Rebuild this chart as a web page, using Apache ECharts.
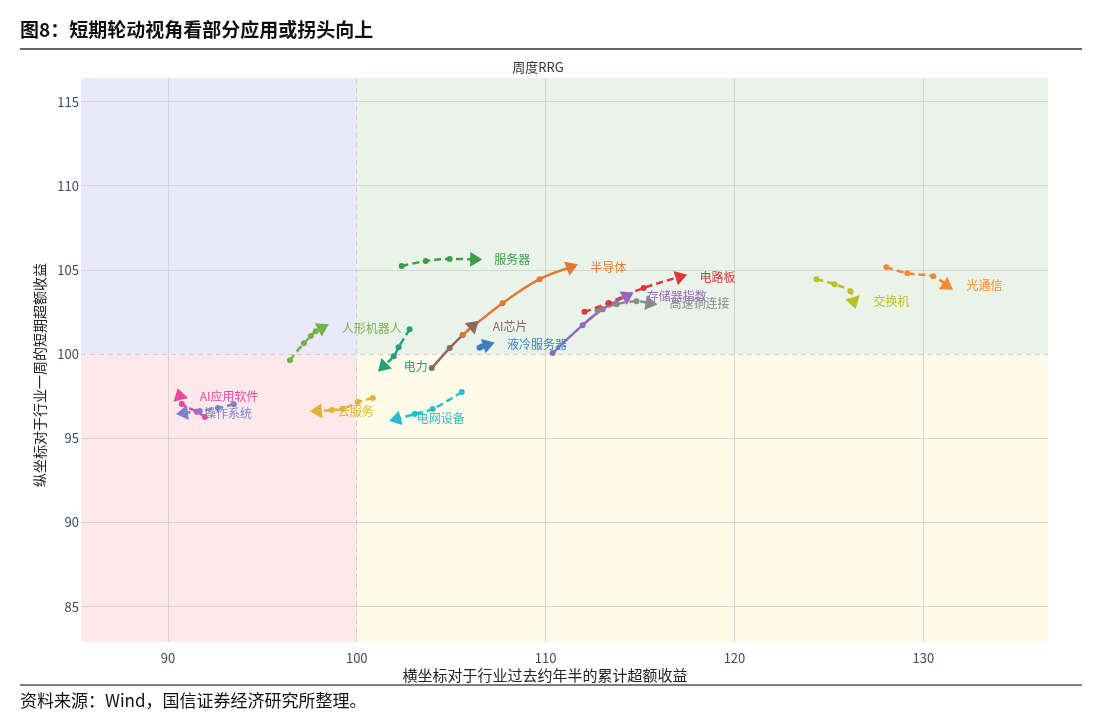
<!DOCTYPE html>
<html>
<head>
<meta charset="utf-8">
<script src="https://cdn.jsdelivr.net/npm/echarts@6/dist/echarts.min.js"></script>
<style>
html,body{margin:0;padding:0;background:#fff;}
#c{width:1104px;height:726px;}
</style>
</head>
<body>
<div id="c"></div>
<script>
// ---- data (x: 累计超额收益, y: 短期超额收益) ----
const s_fwq   = [[102.38,105.23],[103.65,105.53],[104.92,105.65],[106.22,105.63]];          // 服务器
const s_rxjqr = [[96.46,99.64],[97.2,100.65],[97.57,101.07],[97.83,101.36],[98.15,101.55]]; // 人形机器人
const s_dl    = [[102.8,101.48],[102.22,100.41],[101.96,99.88],[101.43,99.29]];              // 电力
const s_aixp  = [[103.97,99.17],[104.92,100.36],[105.61,101.13],[106.14,101.66]];            // AI芯片
const s_bdt   = [[105.61,101.13],[107.72,103.02],[109.68,104.45],[111.32,105.16]];           // 半导体
const s_llfwq = [[106.5,100.38],[106.62,100.45],[106.9,100.55]];                             // 液冷服务器
const s_ccq   = [[110.37,100.06],[111.96,101.72],[113.02,102.67],[114.29,103.44]];           // 存储器指数
const s_gstl  = [[112.75,102.61],[113.76,102.96],[114.81,103.14],[115.5,103.02]];            // 高速铜连接
const s_dlb   = [[112.06,102.51],[113.33,103.04],[115.19,103.93],[117.09,104.58]];           // 电路板
const s_jhj   = [[124.34,104.45],[125.29,104.15],[126.14,103.73],[126.3,103.14]];            // 交换机
const s_gtx   = [[128.04,105.16],[129.15,104.8],[130.53,104.62],[131.22,104.09]];            // 光通信
const s_aiyy  = [[91.96,96.27],[91.53,96.58],[90.74,97.04],[90.63,97.51]];                   // AI应用软件
const s_czxt  = [[93.49,97.02],[92.65,96.8],[91.69,96.62],[90.85,96.5]];                     // 操作系统
const s_yfw   = [[100.85,97.39],[100.05,97.15],[99.26,96.74],[98.68,96.68],[97.94,96.62]];   // 云服务
const s_dwsb  = [[105.56,97.75],[104.02,96.74],[103.07,96.44],[102.12,96.15]];               // 电网设备

const names = ['服务器','人形机器人','电力','AI芯片','半导体','液冷服务器','存储器指数','高速铜连接','电路板','交换机','光通信','AI应用软件','操作系统','云服务','电网设备'];
const seriesData = [s_fwq,s_rxjqr,s_dl,s_aixp,s_bdt,s_llfwq,s_ccq,s_gstl,s_dlb,s_jhj,s_gtx,s_aiyy,s_czxt,s_yfw,s_dwsb];
const colors = ['#3c9f45','#78b04c','#25a07c','#8d6a60','#e07a30','#3a80bf','#9467bd','#8a8a8a','#d93a3c','#bcbd2a','#f28a34','#e8489c','#7f80c8','#e3b234','#25bdd0'];
const solid = [false,false,false,true,true,false,true,false,false,false,false,false,false,false,false];

const xTicks = [90,100,110,120,130];
const yTicks = [85,90,95,100,105,110,115];
const xRange = [85.4,136.6];
const yRange = [82.9,116.4];
const midX = 100, midY = 100;

const FONT = '"Noto Sans CJK SC","Noto Sans",sans-serif';

const chart = echarts.init(document.getElementById('c'));

const series = [];
// quadrant backgrounds
series.push({
  type:'line', data:[], z:1, silent:true,
  markArea:{ silent:true, data:[
    [{coord:[xRange[0],midY], itemStyle:{color:'#e9e9fa'}},{coord:[midX,yRange[1]]}],
    [{coord:[midX,midY], itemStyle:{color:'#e9f3ea'}},{coord:[xRange[1],yRange[1]]}],
    [{coord:[xRange[0],yRange[0]], itemStyle:{color:'#fde9ec'}},{coord:[midX,midY]}],
    [{coord:[midX,yRange[0]], itemStyle:{color:'#fefbe9'}},{coord:[xRange[1],midY]}]
  ]}
});
// grid lines
series.push({
  type:'line', data:[], z:2, silent:true,
  markLine:{ silent:true, symbol:['none','none'], label:{show:false},
    lineStyle:{color:'#d4d4d4', width:1, type:'solid'},
    data: xTicks.filter(v=>v!==midX).map(v=>({xAxis:v}))
      .concat(yTicks.filter(v=>v!==midY).map(v=>({yAxis:v})))
      .concat([{xAxis:midX, lineStyle:{type:[5,4], color:'#cfcfcf'}},{yAxis:midY, lineStyle:{type:[5,4], color:'#cfcfcf'}}])
  }
});
// tails
seriesData.forEach((arr,i)=>{
  series.push({
    type:'line', name:names[i], z:3+i, smooth:0.35, silent:true,
    data: arr.map((p,j)=> j===arr.length-1 ? {value:p, symbol:'none'} : p),
    symbol:'circle', symbolSize:6, showSymbol:true,
    itemStyle:{color:colors[i]},
    lineStyle:{color:colors[i], width:2.5, type: solid[i] ? 'solid' : [7,4]}
  });
});
// arrow heads + labels
const arrowData = seriesData.map((arr,i)=>{
  const a = arr[arr.length-2], b = arr[arr.length-1];
  return [a[0],a[1],b[0],b[1],i];
});
series.push({
  type:'custom', z:30, silent:true,
  data: arrowData,
  renderItem: function(params, api){
    const i = api.value(4);
    const p0 = api.coord([api.value(0), api.value(1)]);
    const p1 = api.coord([api.value(2), api.value(3)]);
    const ang = Math.atan2(p1[1]-p0[1], p1[0]-p0[0]);
    const c = Math.cos(ang), s = Math.sin(ang);
    const pt = (f,w)=>[p1[0]+f*c-w*s, p1[1]+f*s+w*c];
    return {type:'group', children:[
      {type:'polygon', shape:{points:[pt(8,0),pt(-4,7.5),pt(-4,-7.5)]}, style:{fill:colors[i]}},
      {type:'text', style:{text:names[i], x:p1[0]+20, y:p1[1], fill:colors[i], font:'12px '+FONT, align:'left', verticalAlign:'middle'}}
    ]};
  }
});

chart.setOption({
  animation:false,
  backgroundColor:'#ffffff',
  title:{ text:'周度RRG', left:533, top:56, textAlign:'center',
    textStyle:{fontSize:13, fontWeight:'normal', color:'#333', fontFamily:FONT}},
  grid:{ left:81, right:56, top:78, bottom:84, containLabel:false },
  xAxis:{ type:'value', min:xRange[0], max:xRange[1],
    axisLine:{show:false}, axisTick:{show:false}, splitLine:{show:false},
    axisLabel:{ customValues:xTicks, color:'#3d4b5c', fontSize:13, fontFamily:FONT, margin:10 } },
  yAxis:{ type:'value', min:yRange[0], max:yRange[1],
    axisLine:{show:false}, axisTick:{show:false}, splitLine:{show:false},
    axisLabel:{ customValues:yTicks, color:'#3d4b5c', fontSize:13, fontFamily:FONT, margin:2 } },
  graphic:[
    {type:'text', left:20, top:20, style:{text:'图8：短期轮动视角看部分应用或拐头向上', fill:'#111', font:'bold 19px '+FONT}},
    {type:'line', shape:{x1:20,y1:49,x2:1082,y2:49}, style:{stroke:'#333', lineWidth:1.5}},
    {type:'line', shape:{x1:20,y1:685,x2:1082,y2:685}, style:{stroke:'#555', lineWidth:1.5}},
    {type:'text', left:20, top:692, style:{text:'资料来源：Wind，国信证券经济研究所整理。', fill:'#111', font:'17px '+FONT}},
    {type:'text', x:545, y:675, style:{text:'横坐标对于行业过去约年半的累计超额收益', fill:'#222', font:'15px '+FONT, align:'center', verticalAlign:'middle'}},
    {type:'text', x:40, y:375, rotation:Math.PI/2, style:{text:'纵坐标对于行业一周的短期超额收益', fill:'#222', font:'14px '+FONT, align:'center', verticalAlign:'middle'}}
  ],
  series: series
});
</script>
</body>
</html>
